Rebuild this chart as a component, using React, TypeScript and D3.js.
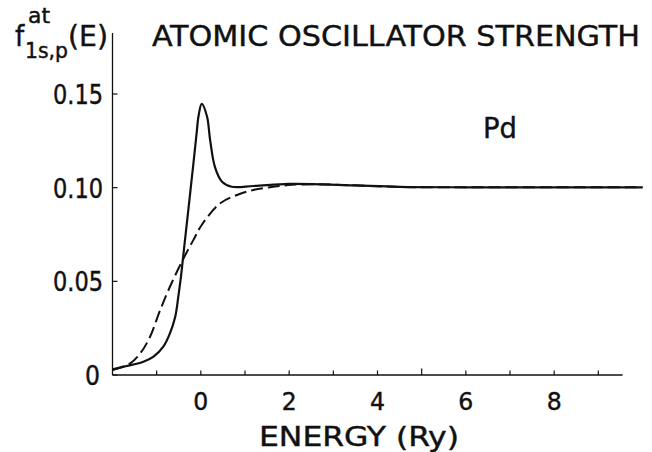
import React from "react";
import * as d3 from "d3";

// Energy (Ry) and atomic oscillator strength values
const solidE = [-2.0, -1.68, -1.3, -1.07, -0.85, -0.7, -0.58, -0.51, -0.45, -0.41, -0.36, -0.29, -0.17, -0.1, -0.05, 0.02, 0.14, 0.21, 0.32, 0.48, 0.7, 1.19, 1.98, 2.7, 3.5, 4.5, 6.0, 8.0, 10.0];
const solidF = [0.003, 0.0048, 0.0071, 0.0098, 0.0151, 0.0222, 0.0311, 0.0418, 0.0525, 0.061, 0.0718, 0.0867, 0.1125, 0.128, 0.1385, 0.1447, 0.138, 0.1255, 0.111, 0.1032, 0.1005, 0.1009, 0.102, 0.1018, 0.1012, 0.1004, 0.1002, 0.1002, 0.1002];

const dashedE = [-2.0, -1.6, -1.37, -1.15, -0.92, -0.7, -0.41, -0.17, 0.02, 0.44, 0.82, 1.19, 1.57, 1.98, 2.5, 3.0, 4.5, 6.0, 8.0, 10.0];
const dashedF = [0.0027, 0.0062, 0.0116, 0.0204, 0.0347, 0.0471, 0.0614, 0.072, 0.0801, 0.0917, 0.0961, 0.0988, 0.1002, 0.1014, 0.1018, 0.1016, 0.1004, 0.1002, 0.1002, 0.1002];

const xTicks = [-1, 0, 1, 2, 3, 4, 5, 6, 7, 8, 9];
const xTickLabels = [0, 2, 4, 6, 8];
const yTicks = [0, 0.05, 0.1, 0.15];
const yTickLabels = ["0", "0.05", "0.10", "0.15"];

const title = "ATOMIC OSCILLATOR STRENGTH";
const xTitle = "ENERGY (Ry)";
const element = "Pd";

const FONT = "'Liberation Sans Narrow', 'DejaVu Sans Condensed', 'DejaVu Sans', sans-serif";

export default function App() {
  const x = d3.scaleLinear().domain([-2, 10]).range([112.5, 642.5]);
  const y = d3.scaleLinear().domain([0, 0.15]).range([375, 94]);

  const line = d3
    .line<[number, number]>()
    .x((d) => x(d[0]))
    .y((d) => y(d[1]))
    .curve(d3.curveCatmullRom.alpha(0.5));

  const solid = line(solidE.map((e, i) => [e, solidF[i]] as [number, number])) || "";
  const dashed = line(dashedE.map((e, i) => [e, dashedF[i]] as [number, number])) || "";

  const x0 = x(-2);
  const xEnd = x(9.55);
  const yBase = y(0);
  const yTop = y(0.1826);
  const txt = { fill: "#111", stroke: "#111", strokeWidth: 0.4 };

  return (
    <svg
      width={652}
      height={452}
      style={{ position: "absolute", left: 0, top: 0, background: "#fff" }}
      fontFamily={FONT}
    >
      <rect x={0} y={0} width={652} height={452} fill="#fff" />
      {/* axes */}
      <line x1={x0} y1={yTop} x2={x0} y2={yBase} stroke="#111" strokeWidth={1.3} />
      <line x1={x0} y1={yBase} x2={xEnd} y2={yBase} stroke="#111" strokeWidth={1.3} />
      {xTicks.map((t) => (
        <line key={"xt" + t} x1={x(t)} x2={x(t)} y1={yBase} y2={yBase - (t === 5 ? 6.5 : 4.5)} stroke="#111" strokeWidth={1.2} />
      ))}
      {yTicks.map((t) => (
        <line key={"yt" + t} x1={x0} x2={x0 + 5} y1={y(t)} y2={y(t)} stroke="#111" strokeWidth={1.2} />
      ))}
      {/* tick labels */}
      {xTickLabels.map((t) => (
        <text key={"xl" + t} x={x(t) - 7.5} y={410} fontSize={25} textLength={15} lengthAdjust="spacingAndGlyphs" {...txt}>
          {t}
        </text>
      ))}
      {yTicks.map((t, i) => (
        <text
          key={"yl" + t}
          x={t === 0 ? 85 : 53}
          y={y(t) + 10}
          fontSize={27}
          textLength={t === 0 ? 15 : 50}
          lengthAdjust="spacingAndGlyphs"
          {...txt}
        >
          {yTickLabels[i]}
        </text>
      ))}
      {/* curves */}
      <path d={dashed} fill="none" stroke="#111" strokeWidth={2} strokeDasharray="12 5" />
      <path d={solid} fill="none" stroke="#111" strokeWidth={2.2} />
      {/* titles */}
      <text x={152} y={46} fontSize={29} textLength={488} lengthAdjust="spacingAndGlyphs" {...txt}>
        {title}
      </text>
      <text x={259} y={446} fontSize={27} textLength={200} lengthAdjust="spacingAndGlyphs" {...txt}>
        {xTitle}
      </text>
      <text x={483} y={138} fontSize={29} textLength={34} lengthAdjust="spacingAndGlyphs" {...txt}>
        {element}
      </text>
      {/* y-axis label f^{at}_{1s,p}(E) */}
      <text x={15} y={46} fontSize={29} {...txt}>f</text>
      <text x={28} y={23} fontSize={21} textLength={22} lengthAdjust="spacingAndGlyphs" {...txt}>at</text>
      <text x={25} y={58} fontSize={21} textLength={43} lengthAdjust="spacingAndGlyphs" {...txt}>1s,p</text>
      <text x={68} y={46} fontSize={29} textLength={40} lengthAdjust="spacingAndGlyphs" {...txt}>(E)</text>
    </svg>
  );
}
